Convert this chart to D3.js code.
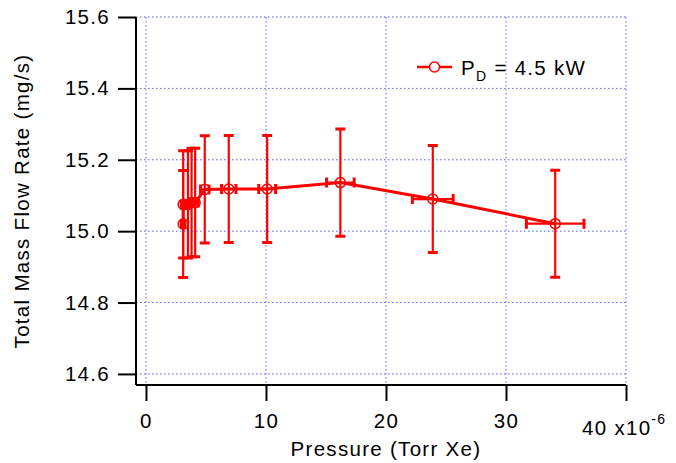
<!DOCTYPE html>
<html>
<head>
<meta charset="utf-8">
<script src="https://cdn.jsdelivr.net/npm/d3@7"></script>
<style>
  body { margin: 0; background: #fff; }
  svg { display: block; font-family: "Liberation Sans", Arial, Helvetica, sans-serif; }
  text { letter-spacing: 1.3px; }
</style>
</head>
<body>
<svg id="chart" width="676" height="463"></svg>
<script>
// measured points, pressure in 1e-6 Torr Xe
const pressure = [3.1, 3.1, 3.5, 3.8, 4.1, 4.9, 6.9, 10.1, 16.2, 23.9, 34.1];
const pressureErr = [0.15, 0.15, 0.2, 0.2, 0.25, 0.35, 0.6, 0.7, 1.15, 1.7, 2.4];
const flow = [15.02, 15.075, 15.075, 15.08, 15.08, 15.117, 15.118, 15.118, 15.136, 15.09, 15.021];
const flowErr = [0.15, 0.15, 0.15, 0.152, 0.152, 0.15, 0.15, 0.15, 0.15, 0.15, 0.15];
const xTicks = [0, 10, 20, 30, 40];
const yTicks = [14.6, 14.8, 15.0, 15.2, 15.4, 15.6];
const seriesLabel = 'P';

const red = '#ff0000';
const gridColor = '#5a5aff';
const fs = 20.5;

const svg = d3.select('#chart');

const x = d3.scaleLinear().domain([-0.83, 40]).range([136, 626]);
const y = d3.scaleLinear().domain([14.569, 15.6]).range([385, 17]);

const data = pressure.map((p, i) => ({
  x: p, xe: pressureErr[i], y: flow[i], ye: flowErr[i],
}));

// grid
const grid = svg.append('g')
  .attr('stroke', gridColor)
  .attr('stroke-width', 1)
  .attr('stroke-dasharray', '1.5,2.5');
grid.selectAll('.vgrid')
  .data(xTicks)
  .join('line')
    .attr('x1', (d) => x(d)).attr('x2', (d) => x(d))
    .attr('y1', y.range()[1]).attr('y2', y.range()[0]);
grid.selectAll('.hgrid')
  .data(yTicks)
  .join('line')
    .attr('y1', (d) => y(d)).attr('y2', (d) => y(d))
    .attr('x1', x.range()[0]).attr('x2', x.range()[1]);

// axes
const yAxis = svg.append('g')
  .attr('transform', `translate(${x.range()[0]},0)`)
  .call(d3.axisLeft(y).tickValues(yTicks).tickSize(18).tickPadding(8)
    .tickFormat(d3.format('.1f')));
const xAxis = svg.append('g')
  .attr('transform', `translate(0,${y.range()[0]})`)
  .call(d3.axisBottom(x).tickValues(xTicks).tickSize(16).tickPadding(12)
    .tickFormat((d) => (d === 40 ? '' : d)));

[yAxis, xAxis].forEach((a) => {
  a.select('.domain').attr('stroke', '#000').attr('stroke-width', 2);
  a.selectAll('.tick line').attr('stroke', '#000').attr('stroke-width', 2);
  a.selectAll('.tick text').attr('fill', '#000').style('font-size', `${fs}px`);
});
yAxis.select('.domain').attr('d', `M0,${y.range()[1]}V${y.range()[0]}`);
xAxis.select('.domain').attr('d', `M${x.range()[0]},0H${x.range()[1]}`);

// last x tick carries the multiplier, drawn lower like the original
const lastTick = svg.append('text')
  .attr('x', 582)
  .attr('y', 435)
  .attr('font-size', fs)
  .attr('fill', '#000');
lastTick.append('tspan').text('40 x10');
lastTick.append('tspan').attr('dy', -11).attr('font-size', 14).text('-6');

// axis titles
svg.append('text')
  .attr('x', 386).attr('y', 456)
  .attr('text-anchor', 'middle')
  .attr('font-size', fs)
  .text('Pressure (Torr Xe)');
svg.append('text')
  .attr('transform', `translate(29,${(y.range()[0] + y.range()[1]) / 2}) rotate(-90)`)
  .attr('text-anchor', 'middle')
  .attr('font-size', fs)
  .text('Total Mass Flow Rate (mg/s)');

// error bars
const cap = 5;
const bars = svg.append('g')
  .attr('stroke', red)
  .attr('fill', 'none');
bars.selectAll('.ybar')
  .data(data)
  .join('path')
    .attr('stroke-width', 2.2)
    .attr('d', (d) => `M${x(d.x)},${y(d.y + d.ye)}V${y(d.y - d.ye)}`);
bars.selectAll('.ycap')
  .data(data)
  .join('path')
    .attr('stroke-width', 3)
    .attr('d', (d) => `M${x(d.x) - cap},${y(d.y + d.ye)}h${cap * 2}M${x(d.x) - cap},${y(d.y - d.ye)}h${cap * 2}`);
bars.selectAll('.xbar')
  .data(data)
  .join('path')
    .attr('stroke-width', 2.2)
    .attr('d', (d) => `M${x(d.x - d.xe)},${y(d.y)}H${x(d.x + d.xe)}`);
bars.selectAll('.xcap')
  .data(data)
  .join('path')
    .attr('stroke-width', 3)
    .attr('d', (d) => `M${x(d.x - d.xe)},${y(d.y) - cap}v${cap * 2}M${x(d.x + d.xe)},${y(d.y) - cap}v${cap * 2}`);

// series line
const line = d3.line().x((d) => x(d.x)).y((d) => y(d.y));
svg.append('path')
  .datum(data)
  .attr('fill', 'none')
  .attr('stroke', red)
  .attr('stroke-width', 3)
  .attr('d', line);

svg.append('g')
  .selectAll('circle')
  .data(data)
  .join('circle')
    .attr('cx', (d) => x(d.x))
    .attr('cy', (d) => y(d.y))
    .attr('r', 5)
    .attr('fill', 'none')
    .attr('stroke', red)
    .attr('stroke-width', 1.5);

// legend
const legend = svg.append('g').attr('transform', 'translate(417,67)');
legend.append('line')
  .attr('x1', 0).attr('x2', 35)
  .attr('stroke', red).attr('stroke-width', 2.5);
legend.append('circle')
  .attr('cx', 17.5).attr('r', 5)
  .attr('fill', '#fff').attr('stroke', red).attr('stroke-width', 1.5);
const lt = legend.append('text')
  .attr('x', 44).attr('y', 8)
  .attr('font-size', fs);
lt.append('tspan').text(seriesLabel);
lt.append('tspan').attr('dy', 6).attr('font-size', 14).text('D');
lt.append('tspan').attr('dy', -6).text(' = 4.5 kW');
</script>
</body>
</html>
